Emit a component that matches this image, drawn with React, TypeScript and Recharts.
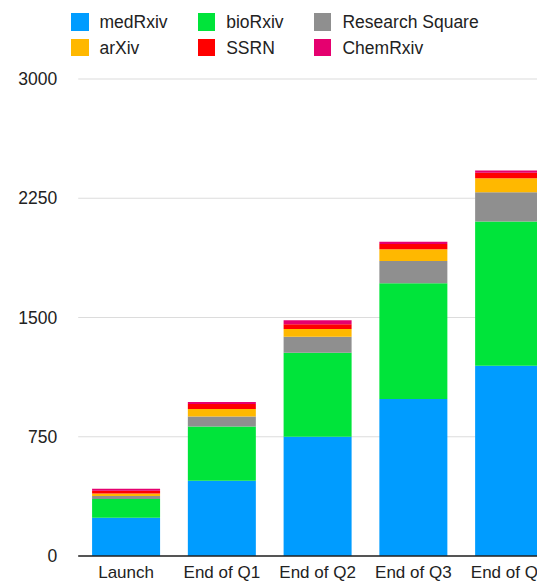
import React from 'react';
import { BarChart, Bar, XAxis, YAxis, CartesianGrid, Legend } from 'recharts';

const categories = ['Launch', 'End of Q1', 'End of Q2', 'End of Q3', 'End of Q4'];
const medRxiv = [241, 474, 750, 987, 1197];
const bioRxiv = [118, 340, 528, 728, 906];
const researchSquare = [19, 63, 101, 140, 185];
const arXiv = [15, 48, 48, 74, 88];
const ssrn = [17, 31, 30, 33, 35];
const chemRxiv = [13, 13, 25, 15, 13];
const yTicks = [0, 750, 1500, 2250, 3000];

const seriesNames = ['medRxiv', 'bioRxiv', 'Research Square', 'arXiv', 'SSRN', 'ChemRxiv'];
const seriesValues = [medRxiv, bioRxiv, researchSquare, arXiv, ssrn, chemRxiv];
const seriesColors = ['#009cff', '#00e43a', '#8f8f8f', '#ffb800', '#ff0000', '#e5006f'];

const data = categories.map((c, i) => {
  const row: Record<string, string | number> = { category: c };
  seriesNames.forEach((n, s) => {
    row[n] = seriesValues[s][i];
  });
  return row;
});

const FONT = '"Liberation Sans", Arial, Helvetica, sans-serif';

const LegendContent = () => (
  <div
    style={{
      height: 60,
      boxSizing: 'border-box',
      paddingTop: 13,
      paddingLeft: 71,
      display: 'grid',
      gridTemplateColumns: '126.7px 116.3px auto',
      rowGap: 4,
      fontFamily: FONT,
      fontSize: 17.5,
      color: '#222',
    }}
  >
    {seriesNames.map((n, i) => (
      <div key={n} style={{ display: 'flex', alignItems: 'center', height: 18 }}>
        <span
          style={{
            display: 'inline-block',
            width: 17.5,
            height: 17.5,
            background: seriesColors[i],
            marginRight: 11,
          }}
        />
        <span style={{ lineHeight: '18px' }}>{n}</span>
      </div>
    ))}
  </div>
);

export default function App() {
  return (
    <div
      style={{
        position: 'absolute',
        left: 0,
        top: 0,
        width: 537,
        height: 582,
        overflow: 'hidden',
        background: '#fff',
        fontFamily: FONT,
      }}
    >
      <BarChart
        width={580}
        height={582}
        data={data}
        margin={{ top: 19, right: 23, left: 0, bottom: 0 }}
        barCategoryGap="14.5%"
      >
        <Legend
          verticalAlign="top"
          align="left"
          content={<LegendContent />}
          wrapperStyle={{ top: 0, left: 0, width: 537, height: 60 }}
        />
        <CartesianGrid vertical={false} stroke="#dcdcdc" strokeWidth={1.2} />
        <YAxis
          width={78.2}
          domain={[0, 3000]}
          ticks={yTicks}
          axisLine={false}
          tickLine={false}
          tickSize={0}
          tickMargin={21}
          tick={{ fill: '#222', fontSize: 17.5, fontFamily: FONT }}
        />
        <XAxis
          dataKey="category"
          height={26}
          tickLine={false}
          tickSize={0}
          tickMargin={10}
          axisLine={{ stroke: '#222', strokeWidth: 1.5 }}
          tick={{ fill: '#222', fontSize: 17, fontFamily: FONT }}
          interval={0}
        />
        {seriesNames.map((n, i) => (
          <Bar
            key={n}
            dataKey={n}
            name={n}
            stackId="a"
            fill={seriesColors[i]}
            isAnimationActive={false}
          />
        ))}
      </BarChart>
    </div>
  );
}
